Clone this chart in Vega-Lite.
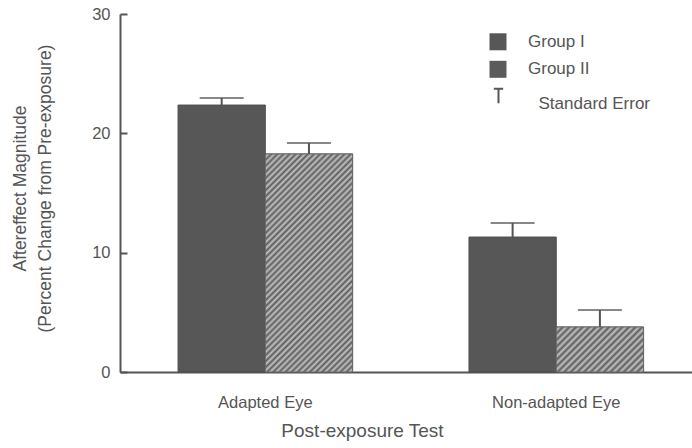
{
  "$schema": "https://vega.github.io/schema/vega-lite/v6.json",
  "width": 572,
  "height": 358,
  "autosize": {"type": "none"},
  "padding": {"left": 120, "top": 14, "right": 0, "bottom": 76},
  "background": "white",
  "config": {"view": {"stroke": null}, "font": "Liberation Sans"},
  "data": {"values": [
    {"test": "Adapted Eye", "group": "Group I", "mean": 22.37, "upper": 22.96},
    {"test": "Adapted Eye", "group": "Group II", "mean": 18.27, "upper": 19.19},
    {"test": "Non-adapted Eye", "group": "Group I", "mean": 11.31, "upper": 12.49},
    {"test": "Non-adapted Eye", "group": "Group II", "mean": 3.77, "upper": 5.2}
  ]},
  "encoding": {
    "x": {
      "field": "test", "type": "nominal", "sort": null,
      "scale": {"paddingInner": 0.4, "paddingOuter": 0.183, "align": 0.545},
      "axis": {
        "title": "Post-exposure Test", "labelAngle": 0, "ticks": false,
        "labelPadding": 35, "labelBaseline": "alphabetic",
        "domainColor": "#555555", "domainWidth": 2,
        "labelFontSize": 16.5, "labelColor": "#555555",
        "titleFontSize": 19, "titleFontWeight": "normal", "titleColor": "#555555",
        "titleX": 242, "titleY": 64, "titleBaseline": "alphabetic", "titleAlign": "center", "titleAnchor": null
      }
    },
    "xOffset": {"field": "group", "type": "nominal", "scale": {"paddingInner": 0, "paddingOuter": 0}}
  },
  "layer": [
    {
      "mark": {"type": "bar", "stroke": "#4f4f4f", "strokeWidth": 1},
      "encoding": {
        "y": {
          "field": "mean", "type": "quantitative",
          "scale": {"domain": [0, 30], "nice": false},
          "axis": {
            "title": ["Aftereffect Magnitude", "(Percent Change from Pre-exposure)"],
            "values": [0, 10, 20, 30], "grid": false,
            "tickSize": -7, "labelPadding": 17,
            "domainColor": "#555555", "domainWidth": 2, "tickColor": "#555555", "tickWidth": 2,
            "labelFontSize": 16.5, "labelColor": "#555555",
            "titleFontSize": 17.5, "titleFontWeight": "normal", "titleColor": "#555555",
            "titleLineHeight": 25, "titleX": -100, "titleY": 174, "titleAngle": -90,
            "titleAlign": "center", "titleBaseline": "middle", "titleAnchor": null
          }
        },
        "color": {
          "field": "group", "type": "nominal",
          "scale": {"domain": ["Group I", "Group II"], "range": ["#575757", "#5b5b5b"]},
          "legend": {
            "title": null, "orient": "none", "legendX": 369.5, "legendY": 19.3, "padding": 0,
            "symbolType": "square", "symbolSize": 289, "symbolStrokeWidth": 0, "rowPadding": 9.5, "labelOffset": 21.5,
            "labelFontSize": 17, "labelColor": "#555555", "labelFont": "Liberation Sans"
          }
        }
      }
    },
    {
      "transform": [{"filter": "datum.test === 'Adapted Eye' && datum.group === 'Group II'"}],
      "mark": {"type": "bar", "stroke": "#6a6a6a", "strokeWidth": 1,
        "fill": {"gradient": "linear", "x1": 0, "y1": 0, "x2": 0.4834, "y2": 1.2069, "stops": [
          {"offset": 0, "color": "#5c5c5c"}, {"offset": 0.01, "color": "#c2c2c2"}, {"offset": 0.02, "color": "#5c5c5c"}, {"offset": 0.03, "color": "#c2c2c2"},
          {"offset": 0.04, "color": "#5c5c5c"}, {"offset": 0.05, "color": "#c2c2c2"}, {"offset": 0.06, "color": "#5c5c5c"}, {"offset": 0.07, "color": "#c2c2c2"},
          {"offset": 0.08, "color": "#5c5c5c"}, {"offset": 0.09, "color": "#c2c2c2"}, {"offset": 0.10, "color": "#5c5c5c"}, {"offset": 0.11, "color": "#c2c2c2"},
          {"offset": 0.12, "color": "#5c5c5c"}, {"offset": 0.13, "color": "#c2c2c2"}, {"offset": 0.14, "color": "#5c5c5c"}, {"offset": 0.15, "color": "#c2c2c2"},
          {"offset": 0.16, "color": "#5c5c5c"}, {"offset": 0.17, "color": "#c2c2c2"}, {"offset": 0.18, "color": "#5c5c5c"}, {"offset": 0.19, "color": "#c2c2c2"},
          {"offset": 0.20, "color": "#5c5c5c"}, {"offset": 0.21, "color": "#c2c2c2"}, {"offset": 0.22, "color": "#5c5c5c"}, {"offset": 0.23, "color": "#c2c2c2"},
          {"offset": 0.24, "color": "#5c5c5c"}, {"offset": 0.25, "color": "#c2c2c2"}, {"offset": 0.26, "color": "#5c5c5c"}, {"offset": 0.27, "color": "#c2c2c2"},
          {"offset": 0.28, "color": "#5c5c5c"}, {"offset": 0.29, "color": "#c2c2c2"}, {"offset": 0.30, "color": "#5c5c5c"}, {"offset": 0.31, "color": "#c2c2c2"},
          {"offset": 0.32, "color": "#5c5c5c"}, {"offset": 0.33, "color": "#c2c2c2"}, {"offset": 0.34, "color": "#5c5c5c"}, {"offset": 0.35, "color": "#c2c2c2"},
          {"offset": 0.36, "color": "#5c5c5c"}, {"offset": 0.37, "color": "#c2c2c2"}, {"offset": 0.38, "color": "#5c5c5c"}, {"offset": 0.39, "color": "#c2c2c2"},
          {"offset": 0.40, "color": "#5c5c5c"}, {"offset": 0.41, "color": "#c2c2c2"}, {"offset": 0.42, "color": "#5c5c5c"}, {"offset": 0.43, "color": "#c2c2c2"},
          {"offset": 0.44, "color": "#5c5c5c"}, {"offset": 0.45, "color": "#c2c2c2"}, {"offset": 0.46, "color": "#5c5c5c"}, {"offset": 0.47, "color": "#c2c2c2"},
          {"offset": 0.48, "color": "#5c5c5c"}, {"offset": 0.49, "color": "#c2c2c2"}, {"offset": 0.50, "color": "#5c5c5c"}, {"offset": 0.51, "color": "#c2c2c2"},
          {"offset": 0.52, "color": "#5c5c5c"}, {"offset": 0.53, "color": "#c2c2c2"}, {"offset": 0.54, "color": "#5c5c5c"}, {"offset": 0.55, "color": "#c2c2c2"},
          {"offset": 0.56, "color": "#5c5c5c"}, {"offset": 0.57, "color": "#c2c2c2"}, {"offset": 0.58, "color": "#5c5c5c"}, {"offset": 0.59, "color": "#c2c2c2"},
          {"offset": 0.60, "color": "#5c5c5c"}, {"offset": 0.61, "color": "#c2c2c2"}, {"offset": 0.62, "color": "#5c5c5c"}, {"offset": 0.63, "color": "#c2c2c2"},
          {"offset": 0.64, "color": "#5c5c5c"}, {"offset": 0.65, "color": "#c2c2c2"}, {"offset": 0.66, "color": "#5c5c5c"}, {"offset": 0.67, "color": "#c2c2c2"},
          {"offset": 0.68, "color": "#5c5c5c"}, {"offset": 0.69, "color": "#c2c2c2"}, {"offset": 0.70, "color": "#5c5c5c"}, {"offset": 0.71, "color": "#c2c2c2"},
          {"offset": 0.72, "color": "#5c5c5c"}, {"offset": 0.73, "color": "#c2c2c2"}, {"offset": 0.74, "color": "#5c5c5c"}, {"offset": 0.75, "color": "#c2c2c2"},
          {"offset": 0.76, "color": "#5c5c5c"}, {"offset": 0.77, "color": "#c2c2c2"}, {"offset": 0.78, "color": "#5c5c5c"}, {"offset": 0.79, "color": "#c2c2c2"},
          {"offset": 0.80, "color": "#5c5c5c"}, {"offset": 0.81, "color": "#c2c2c2"}, {"offset": 0.82, "color": "#5c5c5c"}, {"offset": 0.83, "color": "#c2c2c2"},
          {"offset": 0.84, "color": "#5c5c5c"}, {"offset": 0.85, "color": "#c2c2c2"}, {"offset": 0.86, "color": "#5c5c5c"}, {"offset": 0.87, "color": "#c2c2c2"},
          {"offset": 0.88, "color": "#5c5c5c"}, {"offset": 0.89, "color": "#c2c2c2"}, {"offset": 0.90, "color": "#5c5c5c"}, {"offset": 0.91, "color": "#c2c2c2"},
          {"offset": 0.92, "color": "#5c5c5c"}, {"offset": 0.93, "color": "#c2c2c2"}, {"offset": 0.94, "color": "#5c5c5c"}, {"offset": 0.95, "color": "#c2c2c2"},
          {"offset": 0.96, "color": "#5c5c5c"}, {"offset": 0.97, "color": "#c2c2c2"}, {"offset": 0.98, "color": "#5c5c5c"}, {"offset": 0.99, "color": "#c2c2c2"},
          {"offset": 1, "color": "#5c5c5c"}
        ]}
      },
      "encoding": {"y": {"field": "mean", "type": "quantitative"}}
    },
    {
      "transform": [{"filter": "datum.test === 'Non-adapted Eye' && datum.group === 'Group II'"}],
      "mark": {"type": "bar", "stroke": "#6a6a6a", "strokeWidth": 1,
        "fill": {"gradient": "linear", "x1": 0, "y1": 0, "x2": 1.1973, "y2": 0.6172, "stops": [
          {"offset": 0, "color": "#5c5c5c"}, {"offset": 0.025, "color": "#c2c2c2"}, {"offset": 0.05, "color": "#5c5c5c"}, {"offset": 0.075, "color": "#c2c2c2"},
          {"offset": 0.1, "color": "#5c5c5c"}, {"offset": 0.125, "color": "#c2c2c2"}, {"offset": 0.15, "color": "#5c5c5c"}, {"offset": 0.175, "color": "#c2c2c2"},
          {"offset": 0.2, "color": "#5c5c5c"}, {"offset": 0.225, "color": "#c2c2c2"}, {"offset": 0.25, "color": "#5c5c5c"}, {"offset": 0.275, "color": "#c2c2c2"},
          {"offset": 0.3, "color": "#5c5c5c"}, {"offset": 0.325, "color": "#c2c2c2"}, {"offset": 0.35, "color": "#5c5c5c"}, {"offset": 0.375, "color": "#c2c2c2"},
          {"offset": 0.4, "color": "#5c5c5c"}, {"offset": 0.425, "color": "#c2c2c2"}, {"offset": 0.45, "color": "#5c5c5c"}, {"offset": 0.475, "color": "#c2c2c2"},
          {"offset": 0.5, "color": "#5c5c5c"}, {"offset": 0.525, "color": "#c2c2c2"}, {"offset": 0.55, "color": "#5c5c5c"}, {"offset": 0.575, "color": "#c2c2c2"},
          {"offset": 0.6, "color": "#5c5c5c"}, {"offset": 0.625, "color": "#c2c2c2"}, {"offset": 0.65, "color": "#5c5c5c"}, {"offset": 0.675, "color": "#c2c2c2"},
          {"offset": 0.7, "color": "#5c5c5c"}, {"offset": 0.725, "color": "#c2c2c2"}, {"offset": 0.75, "color": "#5c5c5c"}, {"offset": 0.775, "color": "#c2c2c2"},
          {"offset": 0.8, "color": "#5c5c5c"}, {"offset": 0.825, "color": "#c2c2c2"}, {"offset": 0.85, "color": "#5c5c5c"}, {"offset": 0.875, "color": "#c2c2c2"},
          {"offset": 0.9, "color": "#5c5c5c"}, {"offset": 0.925, "color": "#c2c2c2"}, {"offset": 0.95, "color": "#5c5c5c"}, {"offset": 0.975, "color": "#c2c2c2"},
          {"offset": 1, "color": "#5c5c5c"}
        ]}
      },
      "encoding": {"y": {"field": "mean", "type": "quantitative"}}
    },
    {
      "mark": {"type": "rule", "strokeWidth": 2, "color": "#555555"},
      "encoding": {
        "y": {"field": "mean", "type": "quantitative"},
        "y2": {"field": "upper"},
        "strokeDash": {
          "datum": "Standard Error", "type": "nominal",
          "scale": {"domain": ["Standard Error"], "range": [[1, 0]]},
          "legend": {
            "title": null, "orient": "none", "legendX": 369, "legendY": 72.5, "padding": 0,
            "symbolType": "M-0.55,-0.85H0.55M0,-0.85V0.85", "symbolSize": 289, "symbolStrokeWidth": 2,
            "symbolStrokeColor": "#555555", "symbolFillColor": "transparent",
            "labelOffset": 30.5, "labelBaseline": "top",
            "labelFontSize": 17, "labelColor": "#555555", "labelFont": "Liberation Sans"
          }
        }
      }
    },
    {
      "mark": {"type": "tick", "size": 44, "thickness": 2, "color": "#555555"},
      "encoding": {
        "y": {"field": "upper", "type": "quantitative"}
      }
    }
  ]
}
